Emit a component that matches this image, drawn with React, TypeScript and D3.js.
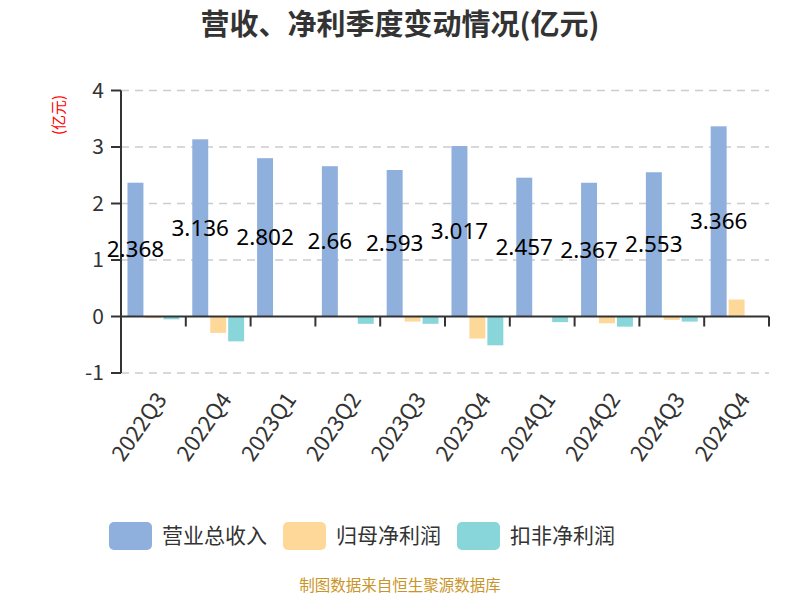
import React from 'react';
import * as d3 from 'd3';

const quarters = ['2022Q3', '2022Q4', '2023Q1', '2023Q2', '2023Q3', '2023Q4', '2024Q1', '2024Q2', '2024Q3', '2024Q4'];
const revenue = [2.368, 3.136, 2.802, 2.66, 2.593, 3.017, 2.457, 2.367, 2.553, 3.366];
const netProfit = [-0.03, -0.29, 0.01, 0.005, -0.09, -0.39, -0.005, -0.12, -0.06, 0.3];
const deductedProfit = [-0.05, -0.44, 0.005, -0.13, -0.13, -0.51, -0.1, -0.18, -0.09, 0.01];
const seriesNames = ['营业总收入', '归母净利润', '扣非净利润'];
const seriesColors = ['#8fafdc', '#fed899', '#88d6da'];
const yTicks = [-1, 0, 1, 2, 3, 4];

const font = '"Noto Sans CJK SC", "Noto Sans", sans-serif';

const App: React.FC = () => {
  const left = 121;
  const right = 769;
  const top = 90.5;
  const bottom = 373;

  const x = d3.scaleBand<string>().domain(quarters).range([left, right]).padding(0);
  const y = d3.scaleLinear().domain([-1, 4]).range([bottom, top]);
  const bw = x.bandwidth();
  const sub = d3.scaleBand<string>().domain(seriesNames).range([bw * 0.1, bw * 0.9]).paddingInner(0.111);

  const series = [revenue, netProfit, deductedProfit];
  const y0 = y(0);

  return (
    <svg width={800} height={600} style={{ position: 'absolute', left: 0, top: 0, background: '#fff' }} fontFamily={font}>
      <text x={400} y={35} textAnchor="middle" fontSize={29} fontWeight="bold" fill="#333">
        营收、净利季度变动情况(亿元)
      </text>

      <text transform={`translate(64,115) rotate(-90)`} textAnchor="middle" fontSize={15} fill="#ff0000">
        (亿元)
      </text>

      {yTicks.filter((t) => t !== 0).map((t) => (
        <line key={`g${t}`} x1={left} x2={right} y1={y(t)} y2={y(t)} stroke="#cccccc" strokeWidth={1.5} strokeDasharray="8,6" />
      ))}

      {series.map((vals, si) =>
        vals.map((v, i) => {
          const bx = (x(quarters[i]) ?? 0) + (sub(seriesNames[si]) ?? 0);
          const yy = y(v);
          return (
            <rect
              key={`b${si}-${i}`}
              x={bx}
              y={Math.min(yy, y0)}
              width={sub.bandwidth()}
              height={Math.max(Math.abs(yy - y0), 0.5)}
              fill={seriesColors[si]}
            />
          );
        })
      )}

      {/* y axis */}
      <line x1={left} x2={left} y1={top} y2={bottom} stroke="#333" strokeWidth={2} />
      {yTicks.map((t) => (
        <g key={`t${t}`}>
          <line x1={left - 10} x2={left} y1={y(t)} y2={y(t)} stroke="#333" strokeWidth={2} />
          <text x={left - 17} y={y(t)} dy="0.35em" textAnchor="end" fontSize={21} fill="#333">
            {t}
          </text>
        </g>
      ))}

      {/* x axis at zero */}
      <line x1={left} x2={right} y1={y0} y2={y0} stroke="#333" strokeWidth={2} />
      {[...quarters.map((q) => x(q) ?? 0), right].map((px, i) => (
        <line key={`xt${i}`} x1={px} x2={px} y1={y0} y2={y0 + 10} stroke="#333" strokeWidth={2} />
      ))}
      {quarters.map((q) => {
        const cx = (x(q) ?? 0) + bw / 2 + 8;
        const cy = bottom + 22;
        return (
          <text key={`xl${q}`} transform={`translate(${cx},${cy}) rotate(-55)`} textAnchor="end" dy="0.35em" fontSize={22} fill="#333">
            {q}
          </text>
        );
      })}

      {/* value labels */}
      {revenue.map((v, i) => {
        const cx = (x(quarters[i]) ?? 0) + (sub(seriesNames[0]) ?? 0) + sub.bandwidth() / 2;
        return (
          <text key={`v${i}`} x={cx} y={(y(v) + y0) / 2} dy="0.35em" textAnchor="middle" fontSize={22.5} fill="#000" fontFamily='"Noto Sans", sans-serif'>
            {v}
          </text>
        );
      })}

      {/* legend */}
      {seriesNames.map((name, i) => {
        const lx = [109, 283, 457][i];
        return (
          <g key={`lg${i}`}>
            <rect x={lx} y={522} width={43} height={28} rx={5} fill={seriesColors[i]} />
            <text x={lx + 53} y={536} dy="0.35em" fontSize={21} fill="#333">
              {name}
            </text>
          </g>
        );
      })}

      <text x={400} y={591} textAnchor="middle" fontSize={15.5} fill="#c9952a">
        制图数据来自恒生聚源数据库
      </text>
    </svg>
  );
};

export default App;
